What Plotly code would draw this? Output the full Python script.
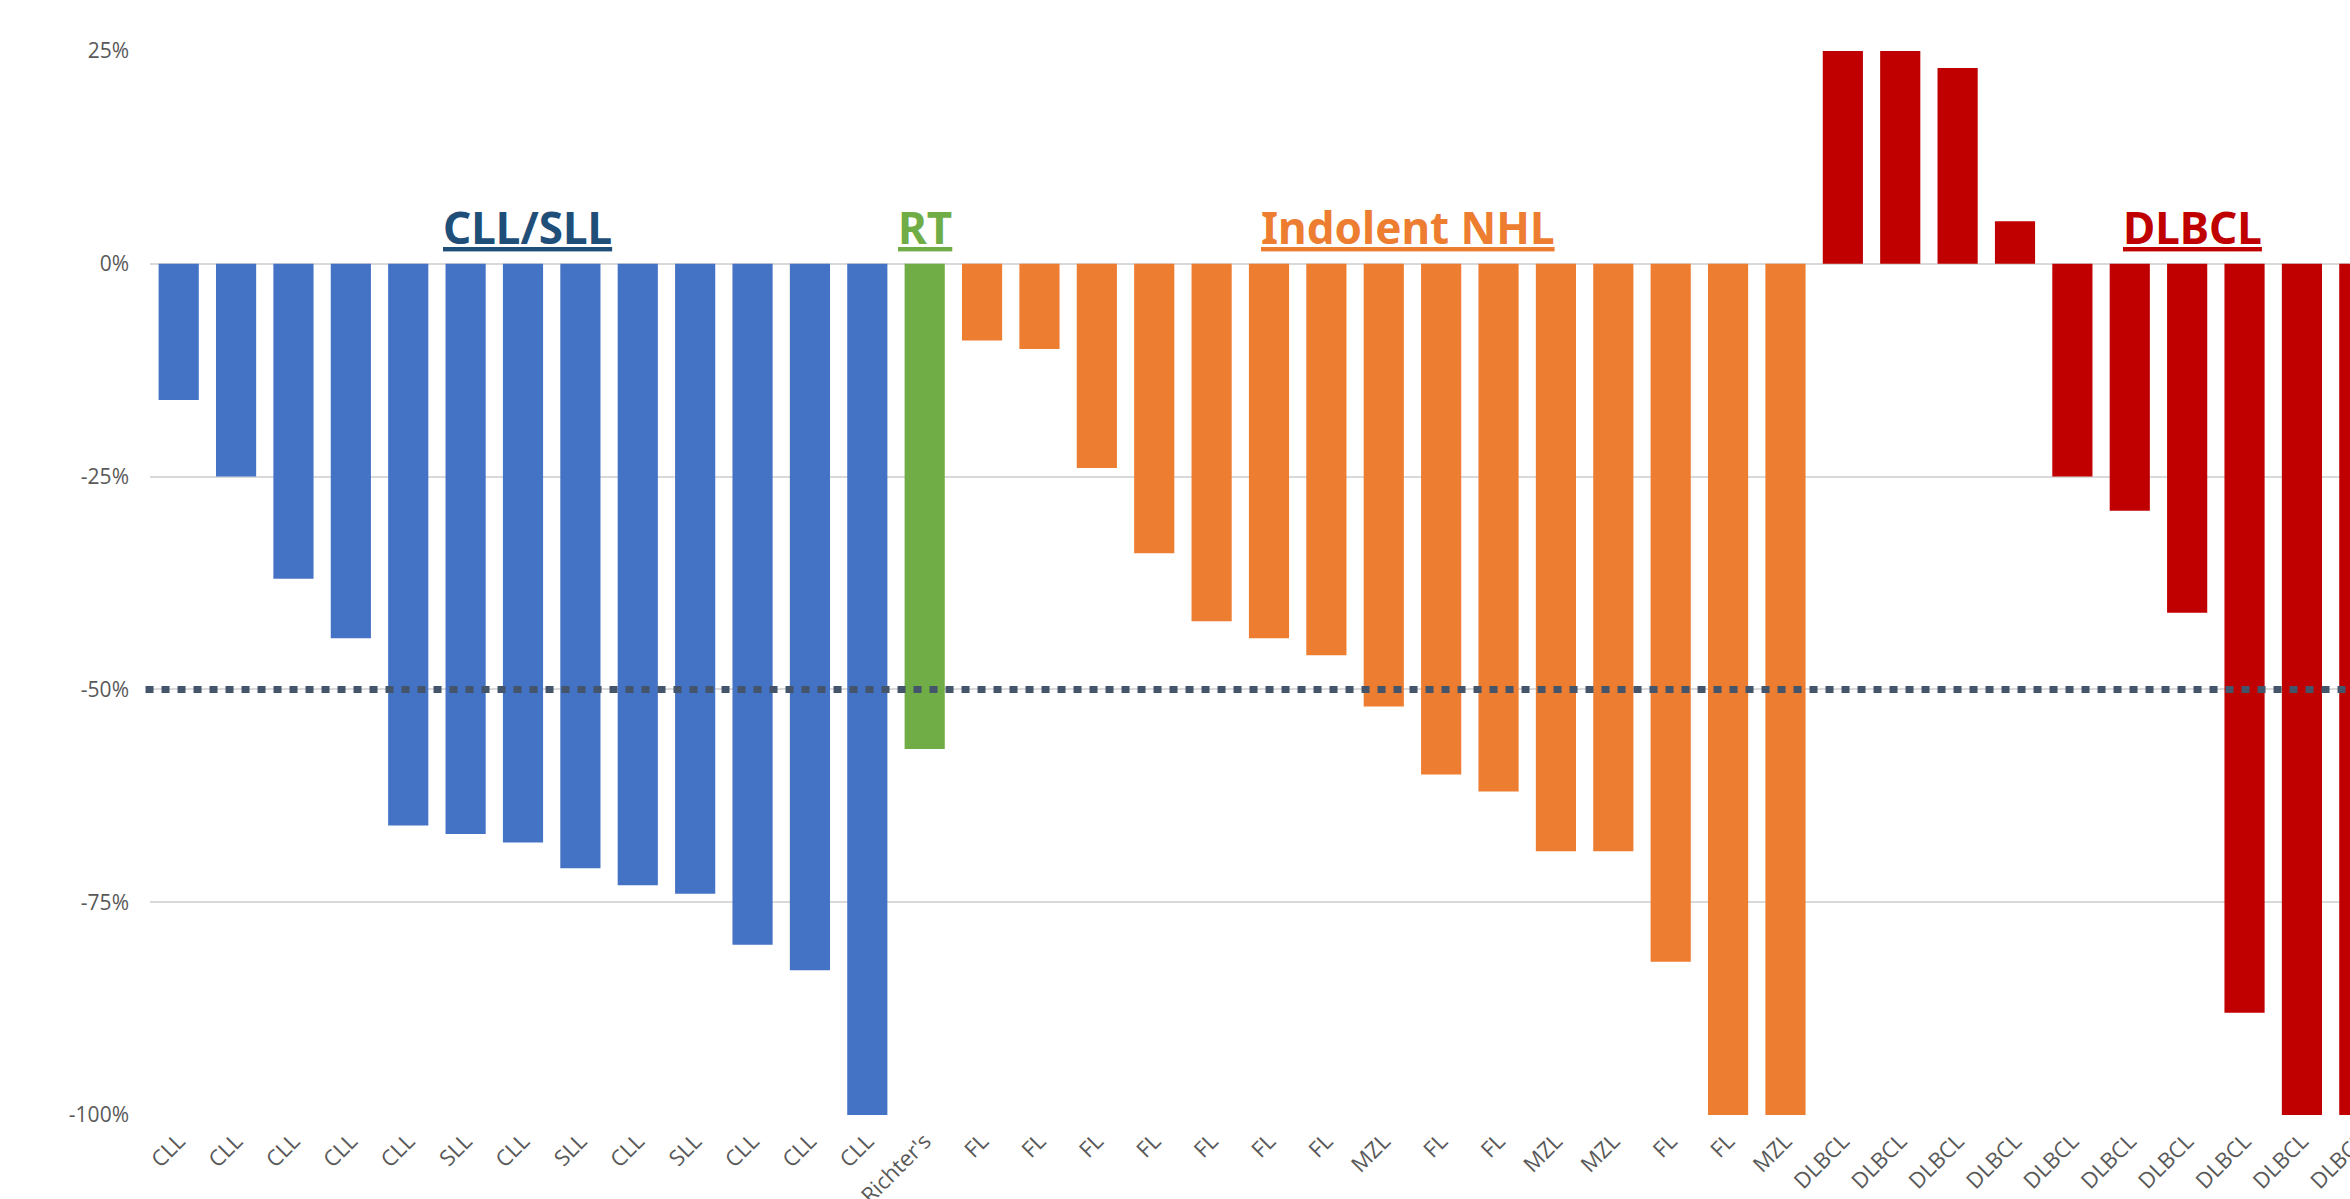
import plotly.graph_objects as go

# ---------------- data ----------------
categories = [
    "CLL", "CLL", "CLL", "CLL", "CLL", "SLL", "CLL", "SLL", "CLL", "SLL", "CLL", "CLL", "CLL",
    "Richter's",
    "FL", "FL", "FL", "FL", "FL", "FL", "FL", "MZL", "FL", "FL", "MZL", "MZL", "FL", "FL", "MZL",
    "DLBCL", "DLBCL", "DLBCL", "DLBCL", "DLBCL", "DLBCL", "DLBCL", "DLBCL", "DLBCL", "DLBCL",
]
groups = (["CLL/SLL"] * 13 + ["RT"] + ["Indolent NHL"] * 15 + ["DLBCL"] * 10)
values = [
    -16, -25, -37, -44, -66, -67, -68, -71, -73, -74, -80, -83, -100,
    -57,
    -9, -10, -24, -34, -42, -44, -46, -52, -60, -62, -69, -69, -82, -100, -100,
    25, 25, 23, 5, -25, -29, -41, -88, -100, -100,
]
group_names = ["CLL/SLL", "RT", "Indolent NHL", "DLBCL"]
group_bar_colors = ["#4472C4", "#70AD47", "#ED7D31", "#C00000"]
group_label_colors = ["#1F4E79", "#70AD47", "#ED7D31", "#C00000"]
group_label_x = [6.08, 13.0, 21.43, 35.1]

y_ticks = [-100, -75, -50, -25, 0, 25]
y_tick_labels = ["-100%", "-75%", "-50%", "-25%", "0%", "25%"]
threshold = -50

# ---------------- figure ----------------
n = len(categories)
xs = list(range(n))
color_of = dict(zip(group_names, group_bar_colors))
bar_colors = [color_of[g] for g in groups]

fig = go.Figure()
fig.add_trace(go.Bar(
    x=xs, y=values,
    marker=dict(color=bar_colors, line=dict(width=0)),
    hoverinfo="skip",
))

# dotted threshold line
fig.add_shape(type="line", xref="paper", yref="y", x0=-0.002, x1=1, y0=threshold, y1=threshold,
              line=dict(color="#44546A", width=7, dash="8px,8px"), layer="above")

for name, col, gx in zip(group_names, group_label_colors, group_label_x):
    fig.add_annotation(
        x=gx, y=0.6, xref="x", yref="y", xanchor="center", yanchor="bottom",
        text=name, showarrow=False,
        font=dict(family="Noto Sans", size=44, color=col, weight=700, lineposition="under"),
    )

xtickfont = dict(family="Open Sans", size=22, color="#595959")
ytickfont = dict(family="Open Sans", size=21, color="#595959")
fig.update_layout(
    width=2388, height=1199,
    margin=dict(l=150, r=0, t=51, b=84, pad=0, autoexpand=False),
    paper_bgcolor="white", plot_bgcolor="white",
    bargap=0.3, showlegend=False,
    xaxis=dict(range=[-0.5, n - 0.5], tickmode="array", tickvals=xs, ticktext=categories,
               tickangle=-45, tickfont=xtickfont, showgrid=False, zeroline=False,
               showline=False, ticks="", ticklabelstandoff=8, automargin=False),
    yaxis=dict(range=[-100, 25], tickmode="array", tickvals=y_ticks, ticktext=y_tick_labels,
               tickfont=ytickfont, showgrid=True, gridcolor="#D9D9D9", gridwidth=2,
               zeroline=True, zerolinecolor="#D9D9D9", zerolinewidth=2,
               showline=False, ticks="", ticklabelstandoff=20, automargin=False),
)

fig.write_html("out.html", config={"displayModeBar": False},
               post_script="document.body.style.margin='0';document.body.style.overflow='hidden';")
